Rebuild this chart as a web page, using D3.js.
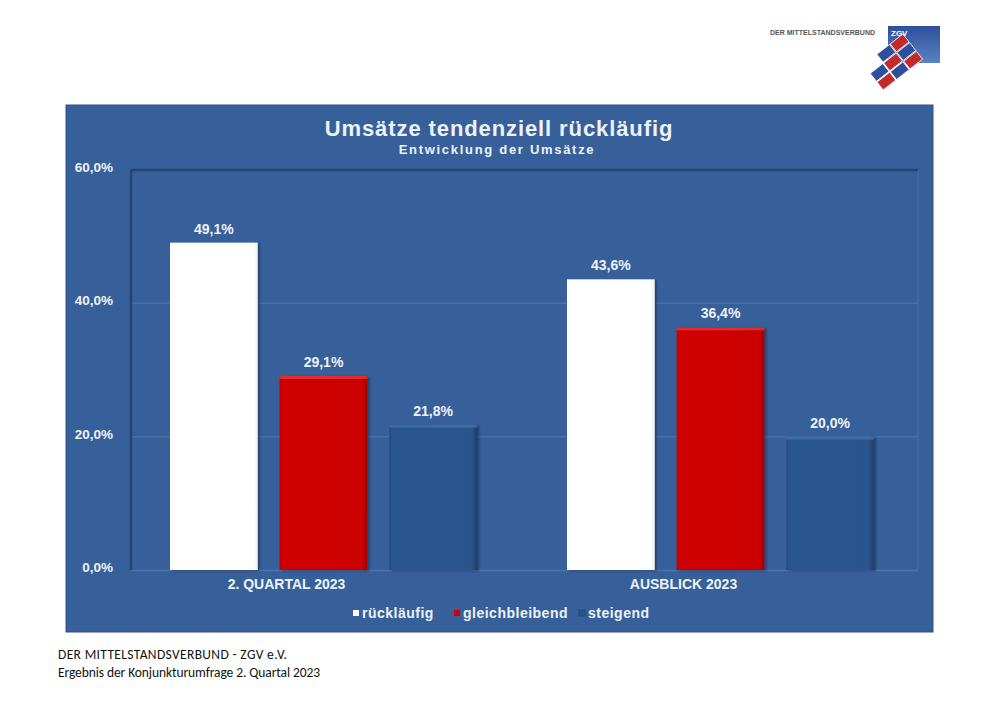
<!DOCTYPE html>
<html><head><meta charset="utf-8">
<script src="https://cdn.jsdelivr.net/npm/d3@7"></script>
<style>body{margin:0;background:#fff;}svg{display:block;}</style>
</head><body>
<script>
const categories = ["2. QUARTAL 2023", "AUSBLICK 2023"];
const seriesNames = ["rückläufig", "gleichbleibend", "steigend"];
const ruecklaeufig = [49.1, 43.6];
const gleichbleibend = [29.1, 36.4];
const steigend = [21.8, 20.0];
const yTicks = [0, 20, 40, 60];
const seriesValues = [ruecklaeufig, gleichbleibend, steigend];

const W = 1000, H = 706;
const svg = d3.select("body").append("svg").attr("width", W).attr("height", H);
const defs = svg.append("defs");

function grad(id, stops, horiz) {
  const g = defs.append("linearGradient").attr("id", id)
    .attr("x1", 0).attr("y1", 0).attr("x2", horiz ? 1 : 0).attr("y2", horiz ? 0 : 1);
  stops.forEach(s => g.append("stop").attr("offset", s[0]).attr("stop-color", s[1]));
}
grad("gWhite", [[0, "#ffffff"], [0.95, "#ffffff"], [1, "#f0f0f0"]], true);
grad("gRed", [[0, "#c00000"], [0.04, "#d10000"], [0.94, "#cc0000"], [1, "#a00000"]], true);
grad("gBlue", [[0, "#26497e"], [0.04, "#2b5690"], [0.94, "#2a548c"], [1, "#1e3d6a"]], true);
const fills = ["url(#gWhite)", "url(#gRed)", "url(#gBlue)"];
const legendFills = ["#ffffff", "#d40000", "#2a548c"];

const f = defs.append("filter").attr("id", "sh").attr("x", "-10%").attr("y", "-10%").attr("width", "130%").attr("height", "130%");
f.append("feDropShadow").attr("dx", 2).attr("dy", 1).attr("stdDeviation", 1.2).attr("flood-color", "#0d2340").attr("flood-opacity", 0.55);

// panel
svg.append("rect").attr("x", 66).attr("y", 105).attr("width", 867).attr("height", 527)
  .attr("fill", "#37609a").attr("stroke", "#2c5084").attr("stroke-width", 1);

const font = "'Liberation Sans', Arial, sans-serif";
const txt = "#eef2f8";

// titles
svg.append("text").attr("x", 499).attr("y", 136).attr("text-anchor", "middle")
  .attr("font-family", font).attr("font-weight", "bold").attr("font-size", 22).attr("letter-spacing", 0.9)
  .attr("fill", txt).text("Umsätze tendenziell rückläufig");
svg.append("text").attr("x", 497).attr("y", 154).attr("text-anchor", "middle")
  .attr("font-family", font).attr("font-weight", "bold").attr("font-size", 13).attr("letter-spacing", 1.7)
  .attr("fill", txt).text("Entwicklung der Umsätze");

// scales
const plot = {l: 131, r: 918, t: 170, b: 570};
const y = d3.scaleLinear().domain([0, 60]).range([plot.b, plot.t]);
const x0 = d3.scaleBand().domain(categories).range([plot.l, plot.l + 794]).paddingInner(0).paddingOuter(0);
const x1 = d3.scaleBand().domain(seriesNames).range([0, 307]).paddingInner(0.2);
const groupInset = 39;

// grid
const g = svg.append("g");
g.selectAll("line.grid").data(yTicks.filter(t => t > 0 && t < 60)).join("line")
  .attr("x1", plot.l).attr("x2", plot.r).attr("y1", d => y(d)).attr("y2", d => y(d))
  .attr("stroke", "#4670a8").attr("stroke-width", 1.5);
g.append("line").attr("x1", plot.l).attr("x2", plot.r).attr("y1", y(0) + 0.5).attr("y2", y(0) + 0.5)
  .attr("stroke", "#4a74ad").attr("stroke-width", 1.5);
g.append("line").attr("x1", plot.r).attr("x2", plot.r).attr("y1", plot.t).attr("y2", plot.b)
  .attr("stroke", "#4670a8").attr("stroke-width", 1);
g.append("line").attr("x1", plot.l).attr("x2", plot.r).attr("y1", plot.t).attr("y2", plot.t)
  .attr("stroke", "#203f6a").attr("stroke-width", 2.5).attr("opacity", 0.8);
g.append("line").attr("x1", plot.l).attr("x2", plot.l).attr("y1", plot.t).attr("y2", plot.b)
  .attr("stroke", "#203f6a").attr("stroke-width", 2.5).attr("opacity", 0.8);

// y axis
const yAxis = d3.axisLeft(y).tickValues(yTicks).tickSize(0).tickPadding(18)
  .tickFormat(d => d3.format(".1f")(d).replace(".", ",") + "%");
const ya = svg.append("g").attr("transform", `translate(${plot.l},0)`).call(yAxis);
ya.select(".domain").remove();
ya.selectAll("text").attr("font-family", font).attr("font-weight", "bold").attr("font-size", 13.5)
  .attr("fill", txt).attr("dy", "0.1em");

// bars
categories.forEach((c, ci) => {
  const gx = x0(c) + groupInset;
  seriesNames.forEach((s, si) => {
    const v = seriesValues[si][ci];
    const bx = gx + x1(s);
    svg.append("rect").attr("x", bx).attr("y", y(v)).attr("width", x1.bandwidth())
      .attr("height", y(0) - y(v)).attr("fill", fills[si]).attr("filter", "url(#sh)");
    if (si > 0) {
      svg.append("rect").attr("x", bx).attr("y", y(v)).attr("width", x1.bandwidth()).attr("height", 3)
        .attr("fill", si === 1 ? "#e23a3a" : "#4470a8").attr("opacity", 0.8);
    }
    svg.append("text").attr("x", bx + x1.bandwidth() / 2).attr("y", y(v) - 9)
      .attr("text-anchor", "middle").attr("font-family", font).attr("font-weight", "bold")
      .attr("font-size", 14).attr("fill", txt)
      .text(d3.format(".1f")(v).replace(".", ",") + "%");
  });
});

// x axis labels
const xAxis = d3.axisBottom(x0).tickSize(0).tickPadding(9);
const xa = svg.append("g").attr("transform", `translate(-43,${plot.b})`).call(xAxis);
xa.select(".domain").remove();
xa.selectAll("text").attr("font-family", font).attr("font-weight", "bold").attr("font-size", 14)
  .attr("fill", txt);

// legend
const legX = [353, 454, 579];
seriesNames.forEach((s, i) => {
  svg.append("rect").attr("x", legX[i]).attr("y", 610).attr("width", 6).attr("height", 6)
    .attr("fill", legendFills[i]).attr("stroke", i === 2 ? "#27497c" : "none");
  svg.append("text").attr("x", legX[i] + 9).attr("y", 618).attr("font-family", font)
    .attr("font-weight", "bold").attr("font-size", 14).attr("letter-spacing", 0.5)
    .attr("fill", txt).text(s);
});

// footer
const ff = "Carlito, Calibri, 'Open Sans', 'Liberation Sans', sans-serif";
svg.append("text").attr("x", 58).attr("y", 659).attr("font-family", ff).attr("font-size", 13.5)
  .attr("fill", "#111").attr("textLength", 229).text("DER MITTELSTANDSVERBUND - ZGV e.V.");
svg.append("text").attr("x", 58).attr("y", 677).attr("font-family", ff).attr("font-size", 13.5)
  .attr("fill", "#111").attr("textLength", 262).text("Ergebnis der Konjunkturumfrage 2. Quartal 2023");

// logo
const logo = svg.append("g");
grad("gLogo", [[0, "#2e4f9a"], [1, "#5a82c4"]], false);
logo.append("text").attr("x", 770).attr("y", 35).attr("font-family", font).attr("font-weight", "bold")
  .attr("font-size", 7).attr("fill", "#555").attr("textLength", 105).text("DER MITTELSTANDSVERBUND");
logo.append("rect").attr("x", 888).attr("y", 26).attr("width", 52).attr("height", 37).attr("fill", "url(#gLogo)");
const tg = logo.append("g").attr("transform", "translate(893,62) rotate(-38)");
const tile = [
  [0, -1, "#2d4f9c"], [1, -1, "#c42a2a"],
  [-1, 0, "#2d4f9c"], [0, 0, "#c42a2a"], [1, 0, "#2d4f9c"],
  [-1, 1, "#c42a2a"], [0, 1, "#2d4f9c"], [1, 1, "#c42a2a"]
];
tile.forEach(t => {
  tg.append("rect").attr("x", t[0] * 17 - 8).attr("y", t[1] * 11 - 5).attr("width", 16).attr("height", 10)
    .attr("fill", t[2]).attr("stroke", "#fff").attr("stroke-width", 0.8);
});
logo.append("text").attr("x", 891).attr("y", 36).attr("font-family", font).attr("font-weight", "bold")
  .attr("font-size", 8).attr("fill", "#fff").text("ZGV");
</script>
</body></html>
